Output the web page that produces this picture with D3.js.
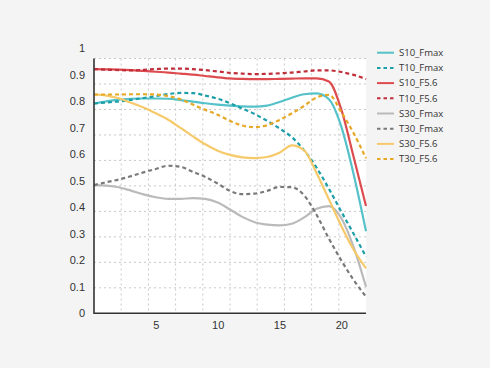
<!DOCTYPE html>
<html><head><meta charset="utf-8">
<script src="https://cdn.jsdelivr.net/npm/d3@7"></script>
<style>
html,body{margin:0;padding:0;background:#f4f4f4;}
svg{display:block;font-family:"Open Sans","DejaVu Sans",sans-serif;}
</style></head>
<body><svg id="chart" width="490" height="368"></svg>
<script>
const xValues = [0,1,2,3,4,5,6,7,8,9,10,11,12,13,14,15,16,17,18,19,20,21,22];
const seriesNames = ["S10_Fmax","T10_Fmax","S10_F5.6","T10_F5.6","S30_Fmax","T30_Fmax","S30_F5.6","T30_F5.6"];
const S10_Fmax = [.792,.800,.807,.810,.811,.811,.810,.805,.799,.793,.788,.784,.781,.780,.784,.798,.814,.827,.830,.808,.705,.525,.310];
const T10_Fmax = [.792,.796,.800,.806,.813,.820,.828,.832,.831,.822,.810,.793,.773,.752,.727,.698,.665,.615,.550,.470,.384,.300,.214];
const S10_F56  = [.922,.921,.920,.918,.915,.912,.909,.905,.901,.896,.891,.887,.885,.884,.884,.885,.886,.887,.887,.875,.770,.590,.405];
const T10_F56  = [.922,.920,.918,.917,.919,.922,.924,.924,.922,.918,.913,.908,.905,.903,.904,.906,.909,.913,.917,.917,.911,.900,.884];
const S30_Fmax = [.484,.482,.476,.463,.449,.438,.432,.432,.435,.432,.418,.392,.364,.344,.335,.332,.338,.362,.395,.405,.360,.250,.100];
const T30_Fmax = [.484,.495,.505,.518,.532,.545,.557,.553,.534,.515,.490,.462,.450,.452,.462,.477,.476,.445,.372,.282,.200,.126,.063];
const S30_F56  = [.826,.822,.812,.795,.777,.755,.731,.700,.668,.638,.614,.598,.589,.586,.590,.606,.634,.615,.530,.430,.330,.240,.170];
const T30_F56  = [.826,.826,.826,.827,.827,.826,.820,.808,.788,.768,.750,.726,.709,.703,.710,.730,.755,.783,.815,.825,.760,.680,.585];
const seriesValues = [S10_Fmax,T10_Fmax,S10_F56,T10_F56,S30_Fmax,T30_Fmax,S30_F56,T30_F56];
const seriesColors = ["#55c1c8","#1b9fa8","#de4b4f","#bf2e3a","#bababa","#7a7a7a","#f6ca6a","#e6a826"];
const seriesDashed = [false,true,false,true,false,true,false,true];
const yTicks = [0,0.1,0.2,0.3,0.4,0.5,0.6,0.7,0.8,0.9,1];
const xTicks = [5,10,15,20];
const xMax = 22, yMax = 0.962;

const svg = d3.select("#chart");
const L = 94, R = 366, T = 58.5, B = 313.3;
const x = d3.scaleLinear().domain([0, xMax]).range([L, R]);
const y = d3.scaleLinear().domain([0, yMax]).range([B, T]);

svg.append("rect").attr("x", L).attr("y", T).attr("width", R-L).attr("height", B-T).attr("fill", "#ffffff");

const g = svg.append("g");
const gx = d3.range(1, 10).map(i => i * xMax / 10);
const gy = d3.range(1, 11).map(i => i * yMax / 10);
g.selectAll(".vg").data(gx).enter().append("line")
  .attr("x1", d => x(d)).attr("x2", d => x(d)).attr("y1", T).attr("y2", B)
  .attr("stroke", "#c8c8c8").attr("stroke-dasharray", "2,3").attr("stroke-width", 1);
g.selectAll(".hg").data(gy).enter().append("line")
  .attr("x1", L).attr("x2", R).attr("y1", d => y(d)).attr("y2", d => y(d))
  .attr("stroke", "#c8c8c8").attr("stroke-dasharray", "2,3").attr("stroke-width", 1);

const line = d3.line().x((d, i) => x(xValues[i])).y(d => y(d)).curve(d3.curveMonotoneX);
seriesValues.forEach((vals, k) => {
  svg.append("path").attr("d", line(vals)).attr("fill", "none")
    .attr("stroke", seriesColors[k]).attr("stroke-width", 2.2)
    .attr("stroke-dasharray", seriesDashed[k] ? "4,3" : null);
});

const yAxis = d3.axisLeft(y).tickValues(yTicks).tickSize(0).tickPadding(9).tickFormat(d => d3.format("")(+d.toFixed(1)));
const ya = svg.append("g").attr("transform", `translate(${L},0)`).call(yAxis);
ya.select(".domain").remove();
ya.selectAll("text").attr("fill", "#333").attr("font-size", 11);
const xAxis = d3.axisBottom(x).tickValues(xTicks).tickSize(0).tickPadding(8);
const xa = svg.append("g").attr("transform", `translate(0,${B})`).call(xAxis);
xa.select(".domain").remove();
xa.selectAll("text").attr("fill", "#333").attr("font-size", 11);
svg.append("line").attr("x1", L).attr("x2", L).attr("y1", T).attr("y2", B+0.7).attr("stroke", "#333").attr("stroke-width", 1.6);
svg.append("line").attr("x1", L).attr("x2", R).attr("y1", B).attr("y2", B).attr("stroke", "#333").attr("stroke-width", 1.6);

const lg = svg.append("g").attr("transform", "translate(377,52.7)");
seriesNames.forEach((name, k) => {
  const row = lg.append("g").attr("transform", `translate(0,${k * 15.2})`);
  row.append("line").attr("x1", 0).attr("x2", 17).attr("y1", 0).attr("y2", 0)
    .attr("stroke", seriesColors[k]).attr("stroke-width", 2)
    .attr("stroke-dasharray", seriesDashed[k] ? "3.5,3" : null);
  row.append("text").attr("x", 22).attr("y", 0).attr("dy", "0.35em")
    .attr("font-size", 9.5).attr("fill", "#333").text(name);
});
</script></body></html>
